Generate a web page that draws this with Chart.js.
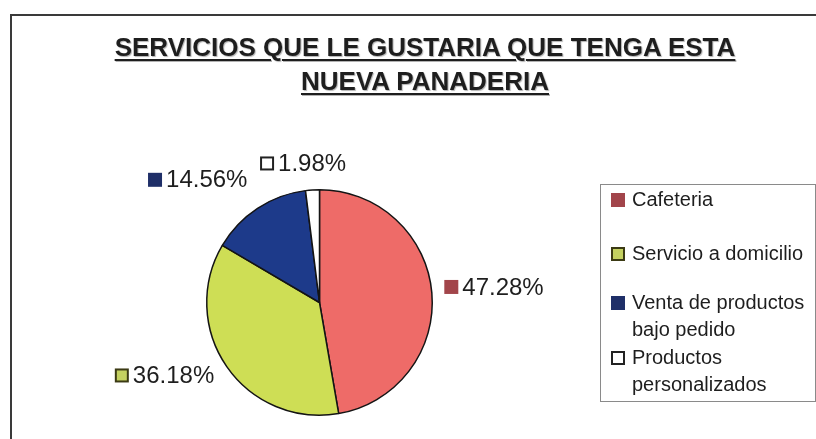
<!DOCTYPE html>
<html>
<head>
<meta charset="utf-8">
<script src="https://cdn.jsdelivr.net/npm/chart.js@4"></script>
<style>
    html, body { margin: 0; padding: 0; background: #fff; }
    #wrap { position: relative; width: 816px; height: 439px; overflow: hidden; font-family: 'Liberation Sans', Arial, sans-serif; color: #1e1e1e; }
    #frame { position: absolute; left: 10px; top: 14px; width: 820px; height: 440px; border-left: 2px solid #3a3a3a; border-top: 2px solid #3a3a3a; }
    #pie { position: absolute; left: 0; top: 0; }
    #title { position: absolute; left: 25px; top: 30px; width: 800px; text-align: center; font-weight: bold; font-size: 26px; line-height: 34px; }
    #title span { text-decoration: underline; text-decoration-thickness: 2px; text-underline-offset: 3px; text-shadow: 1px 1px 1px rgba(0,0,0,0.3); }
    #legend { position: absolute; left: 600px; top: 184px; width: 216px; height: 218px; border: 1px solid #8a8a8a; box-sizing: border-box; }
    .item { position: absolute; left: 31px; font-size: 20px; line-height: 27px; white-space: nowrap; }
    .sw { position: absolute; left: 10px; width: 14px; height: 14px; box-sizing: border-box; }
</style>
</head>
<body>
<div id="wrap">
    <div id="frame"></div>
    <canvas id="pie" width="816" height="439"></canvas>
    <div id="title"><span>SERVICIOS QUE LE GUSTARIA QUE TENGA ESTA</span><br><span>NUEVA PANADERIA</span></div>
    <div id="legend"></div>
</div>
<script>
    // servicios y porcentajes
    const categories = ['Cafeteria', 'Servicio a domicilio', 'Venta de productos bajo pedido', 'Productos personalizados'];
    const legendLines = [['Cafeteria'], ['Servicio a domicilio'], ['Venta de productos', 'bajo pedido'], ['Productos', 'personalizados']];
    const percents = [47.28, 36.18, 14.56, 1.98];

    const fills = ['#ee6b68', '#cede55', '#1d3a8a', '#ffffff'];
    // marcadores de la leyenda / etiquetas (fondo, borde)
    const swatches = [
        ['#a2454b', '#a2454b'],
        ['#c4d160', '#3b3a14'],
        ['#1f2f68', '#1f2f68'],
        ['#ffffff', '#222222']
    ];

    const $ = (id) => document.getElementById(id);

    // leyenda
    (function buildLegend() {
        const box = $('legend');
        const tops = [1, 55, 104, 159];
        legendLines.forEach((lines, i) => {
            const it = document.createElement('div');
            it.className = 'item';
            it.style.top = tops[i] + 'px';
            it.innerHTML = lines.join('<br>');
            box.appendChild(it);

            const sw = document.createElement('div');
            sw.className = 'sw';
            sw.style.top = (tops[i] + 7) + 'px';
            sw.style.background = swatches[i][0];
            sw.style.border = '2px solid ' + swatches[i][1];
            box.appendChild(sw);
        });
    })();

    // etiquetas de porcentaje fuera de cada sector
    const pctLabels = {
        id: 'pctLabels',
        afterDatasetsDraw(chart) {
            const ctx = chart.ctx;
            const meta = chart.getDatasetMeta(0);
            ctx.save();
            ctx.font = '24px "Liberation Sans", Arial, sans-serif';
            ctx.textBaseline = 'middle';
            meta.data.forEach((arc, i) => {
                const p = arc.getProps(['x', 'y', 'startAngle', 'endAngle', 'outerRadius'], true);
                const mid = (p.startAngle + p.endAngle) / 2;
                const dx = Math.cos(mid), dy = Math.sin(mid);
                // arriba a la izquierda la etiqueta se aleja un poco más
                const r = p.outerRadius * (dy < -0.5 && dx < -0.3 ? 1.26 : 1.2);
                const ax = p.x + dx * r;
                const ay = p.y + dy * r - 4;
                const txt = percents[i].toFixed(2) + '%';
                const tw = ctx.measureText(txt).width;
                const blockW = 14 + 4 + tw;
                let left;
                if (dx > 0.3) left = ax - 10;
                else if (dx < -0.3) left = ax + 6 - blockW;
                else left = ax - blockW / 2 - 8;

                ctx.fillStyle = swatches[i][1];
                ctx.fillRect(left, ay - 7, 14, 14);
                ctx.fillStyle = swatches[i][0];
                ctx.fillRect(left + 2, ay - 5, 10, 10);
                ctx.fillStyle = '#1e1e1e';
                ctx.textAlign = 'left';
                ctx.fillText(txt, left + 18, ay + 1);
            });
            ctx.restore();
        }
    };

    new Chart($('pie').getContext('2d'), {
        type: 'pie',
        data: {
            labels: categories,
            datasets: [{
                data: percents,
                backgroundColor: fills,
                borderColor: '#141414',
                borderWidth: 1.5
            }]
        },
        options: {
            responsive: false,
            animation: false,
            events: [],
            layout: { padding: { left: 206, right: 383, top: 189, bottom: 23 } },
            plugins: { legend: { display: false }, tooltip: { enabled: false }, title: { display: false } }
        },
        plugins: [pctLabels]
    });
</script>
</body>
</html>
